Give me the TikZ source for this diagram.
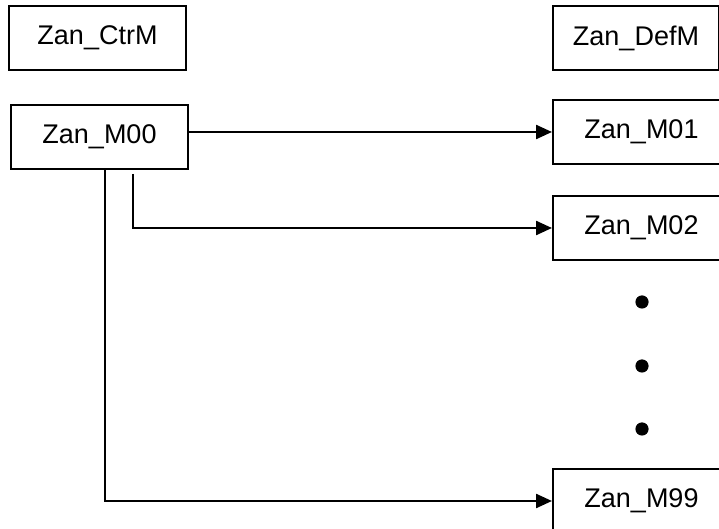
\documentclass[tikz,border=0pt]{standalone}
\usepackage{fontspec}
\setmainfont{Liberation Sans}
\usetikzlibrary{arrows.meta}
\tikzset{
  modbox/.style={draw, line width=1pt, minimum width=88.5pt, minimum height=32pt, inner sep=0pt, font=\fontsize{13.5}{16}\selectfont},
  link/.style={line width=1.2pt, -{Triangle[length=8pt, width=7pt]}}
}
\begin{document}
\begin{tikzpicture}[x=0.5pt, y=-0.5pt]
    \useasboundingbox (0,0) rectangle (719,529);
    % Left column
    \node[modbox] (ctrm) at (97.5,38) {Zan\_CtrM};
    \node[modbox] (m00) at (99.5,137) {Zan\_M00};
    % Right column
    \node[modbox, minimum width=83pt] (defm) at (636,38) {Zan\_DefM};
    \node[modbox] (m01) at (641.5,132) {Zan\_M01};
    \node[modbox] (m02) at (641.5,228) {Zan\_M02};
    \node[modbox] (m99) at (641.5,501) {Zan\_M99};
    % Ellipsis dots
    \foreach \y in {302,366,429}
      \fill (642,\y) circle (3.3pt);
    % Links
    \coordinate (tapb) at ([xshift=16.75pt, yshift=-2pt]m00.south);
    \coordinate (tapc) at ([xshift=2.75pt]m00.south);
    \draw[link] (m00.east |- m01.west) -- (m01.west);
    \draw[link] (tapb) |- (m02.west);
    \draw[link] (tapc) |- (m99.west);
\end{tikzpicture}
\end{document}
